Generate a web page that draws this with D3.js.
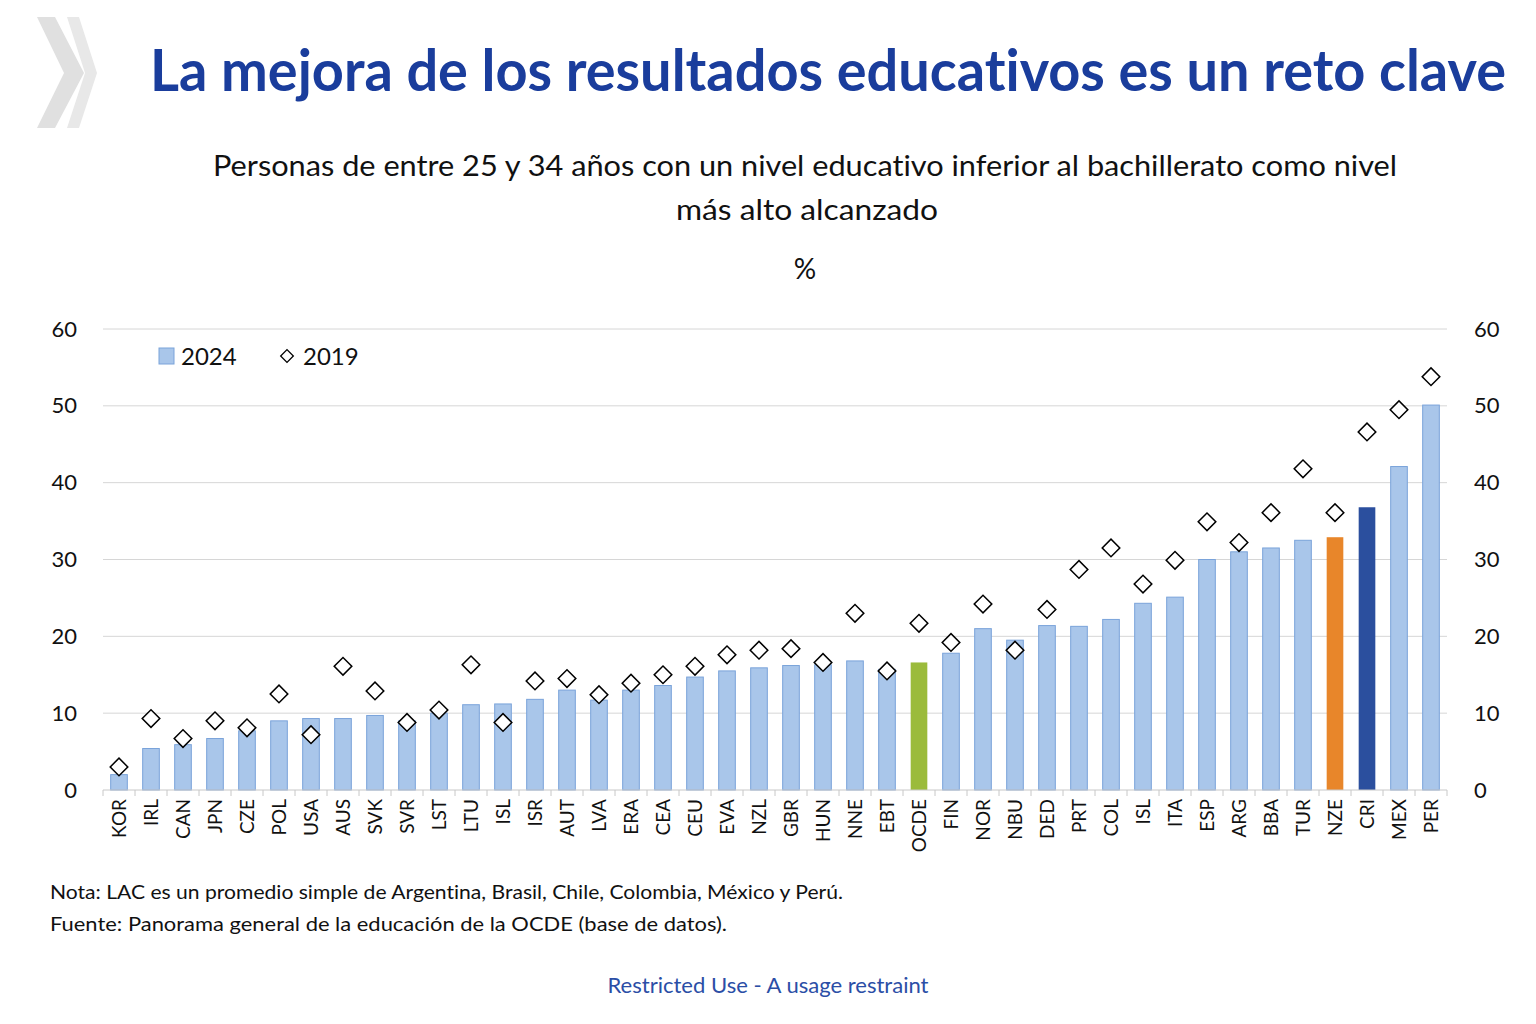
<!DOCTYPE html>
<html>
<head>
<meta charset="utf-8">
<script src="https://cdn.jsdelivr.net/npm/d3@7"></script>
<style>
  body { margin: 0; background: #fff; }
  svg { font-family: Lato, "Noto Sans", sans-serif; font-variant-ligatures: none; }
</style>
</head>
<body>
<svg class="chart" width="1536" height="1024"></svg>
<script>
// country codes as printed on the axis
let countries = ["KOR", "IRL", "CAN", "JPN", "CZE", "POL", "USA", "AUS", "SVK", "SVR",
    "LST", "LTU", "ISL", "ISR", "AUT", "LVA", "ERA", "CEA", "CEU", "EVA",
    "NZL", "GBR", "HUN", "NNE", "EBT", "OCDE", "FIN", "NOR", "NBU", "DED",
    "PRT", "COL", "ISL", "ITA", "ESP", "ARG", "BBA", "TUR", "NZE", "CRI",
    "MEX", "PER"]

let values_2024 = [2.0, 5.4, 5.9, 6.7, 7.7, 9.0, 9.3, 9.3, 9.7, 9.0,
    10.0, 11.1, 11.2, 11.8, 13.0, 11.7, 13.0, 13.6, 14.7, 15.5,
    15.9, 16.2, 16.3, 16.8, 15.7, 16.6, 17.8, 21.0, 19.5, 21.4,
    21.3, 22.2, 24.3, 25.1, 30.0, 31.0, 31.5, 32.5, 32.9, 36.8,
    42.1, 50.1]

let values_2019 = [3.0, 9.3, 6.7, 9.0, 8.1, 12.5, 7.2, 16.1, 12.9, 8.8,
    10.4, 16.3, 8.8, 14.2, 14.5, 12.4, 13.9, 15.0, 16.1, 17.6,
    18.2, 18.4, 16.6, 23.0, 15.5, 21.7, 19.2, 24.2, 18.2, 23.5,
    28.7, 31.5, 26.8, 29.9, 34.9, 32.2, 36.1, 41.8, 36.1, 46.6,
    49.5, 53.8]

let y_ticks = [0, 10, 20, 30, 40, 50, 60]

let highlight = { "OCDE": "#9bbb3b", "NZE": "#e8862a", "CRI": "#2b4f9e" }

let svg = d3.select(".chart")

let left = 103
let right = 1447
let top_y = 329
let bottom_y = 790

let x = d3.scaleBand()
    .domain(d3.range(countries.length))
    .range([left, right])
    .paddingInner(0.48)
    .paddingOuter(0.24)

let y = d3.scaleLinear()
    .domain([0, 60])
    .range([bottom_y, top_y])

// logo chevrons
let chevrons = [
    [[37, 17], [55, 17], [84, 73], [55, 128], [37, 128], [64, 73]],
    [[67, 17], [79, 17], [97, 73], [79, 128], [67, 128], [85, 73]]
]
svg.selectAll("polygon.logo")
    .data(chevrons)
    .enter().append("polygon")
    .classed("logo", true)
    .attr("points", d => d.map(p => p.join(",")).join(" "))
    .attr("fill", (d, i) => i ? "#e8e8e8" : "#e0e0e0")

// title
svg.append("text")
    .attr("x", 150)
    .attr("y", 91)
    .attr("font-size", 57)
    .attr("font-weight", "bold")
    .attr("fill", "#1a3d9c")
    .attr("textLength", 1356)
    .attr("lengthAdjust", "spacingAndGlyphs")
    .text("La mejora de los resultados educativos es un reto clave")

let subtitle = svg.append("g")
    .attr("font-size", 28)
    .attr("fill", "#111")
    .attr("text-anchor", "middle")
subtitle.append("text")
    .attr("x", 805).attr("y", 176)
    .attr("textLength", 1184)
    .attr("lengthAdjust", "spacingAndGlyphs")
    .text("Personas de entre 25 y 34 años con un nivel educativo inferior al bachillerato como nivel")
subtitle.append("text")
    .attr("x", 807).attr("y", 220)
    .attr("textLength", 262)
    .attr("lengthAdjust", "spacingAndGlyphs")
    .text("más alto alcanzado")
subtitle.append("text")
    .attr("x", 805).attr("y", 279)
    .text("%")

// grid lines
svg.append("g")
    .selectAll("line")
    .data(y_ticks.filter(d => d > 0))
    .enter().append("line")
    .attr("x1", left).attr("x2", right)
    .attr("y1", d => y(d)).attr("y2", d => y(d))
    .attr("stroke", "#d6d6d6")
    .attr("stroke-width", 1)

// y axes, both sides
let y_left = svg.append("g")
    .attr("transform", `translate(${left - 26},0)`)
    .call(d3.axisLeft(y).tickValues(y_ticks).tickSize(0).tickPadding(0))
let y_right = svg.append("g")
    .attr("transform", `translate(${right + 27},0)`)
    .call(d3.axisRight(y).tickValues(y_ticks).tickSize(0).tickPadding(0))
;[y_left, y_right].forEach(g => {
    g.select(".domain").remove()
    g.selectAll("text")
        .attr("font-size", 22)
        .attr("font-family", "Lato, sans-serif")
        .attr("fill", "#111")
})

// bars 2024
svg.append("g")
    .selectAll("rect")
    .data(values_2024)
    .enter().append("rect")
    .attr("x", (d, i) => x(i))
    .attr("y", d => y(d))
    .attr("width", x.bandwidth())
    .attr("height", d => y(0) - y(d))
    .attr("fill", (d, i) => highlight[countries[i]] || "#a9c6ea")
    .attr("stroke", (d, i) => highlight[countries[i]] ? "none" : "#7aa3da")
    .attr("stroke-width", 1)

// x axis with ticks between categories
let x_axis = svg.append("g")
    .attr("transform", `translate(0,${bottom_y})`)
x_axis.append("line")
    .attr("x1", left).attr("x2", right)
    .attr("stroke", "#c8c8c8")
x_axis.selectAll("line.tick")
    .data(d3.range(countries.length + 1))
    .enter().append("line")
    .classed("tick", true)
    .attr("x1", i => left + i * x.step())
    .attr("x2", i => left + i * x.step())
    .attr("y1", 0).attr("y2", 6)
    .attr("stroke", "#c8c8c8")
x_axis.selectAll("text")
    .data(countries)
    .enter().append("text")
    .attr("transform", (d, i) => `translate(${x(i) + x.bandwidth() / 2 + 7},9) rotate(-90)`)
    .attr("text-anchor", "end")
    .attr("font-size", 19)
    .attr("fill", "#111")
    .text(d => d)

// diamonds 2019
let diamond = d3.symbol().type(d3.symbolSquare).size(155)
svg.append("g")
    .selectAll("path")
    .data(values_2019)
    .enter().append("path")
    .attr("d", diamond)
    .attr("transform", (d, i) => `translate(${x(i) + x.bandwidth() / 2},${y(d)}) rotate(45)`)
    .attr("fill", "#fff")
    .attr("stroke", "#000")
    .attr("stroke-width", 1.5)

// legend
let legend = svg.append("g").attr("font-size", 24).attr("fill", "#111")
legend.append("rect")
    .attr("x", 159).attr("y", 348).attr("width", 15).attr("height", 16)
    .attr("fill", "#a9c6ea").attr("stroke", "#7aa3da")
legend.append("text").attr("x", 181).attr("y", 365).text("2024")
legend.append("path")
    .attr("d", d3.symbol().type(d3.symbolSquare).size(80))
    .attr("transform", "translate(287,356) rotate(45)")
    .attr("fill", "#fff").attr("stroke", "#000").attr("stroke-width", 1.3)
legend.append("text").attr("x", 303).attr("y", 365).text("2019")

// notes
let notes = svg.append("g").attr("font-size", 20).attr("fill", "#111")
notes.append("text").attr("x", 50).attr("y", 899)
    .attr("textLength", 793)
    .attr("lengthAdjust", "spacingAndGlyphs")
    .text("Nota: LAC es un promedio simple de Argentina, Brasil, Chile, Colombia, México y Perú.")
notes.append("text").attr("x", 50).attr("y", 931)
    .attr("textLength", 677)
    .attr("lengthAdjust", "spacingAndGlyphs")
    .text("Fuente: Panorama general de la educación de la OCDE (base de datos).")

svg.append("text")
    .attr("x", 768).attr("y", 993)
    .attr("text-anchor", "middle")
    .attr("font-size", 21)
    .attr("fill", "#2b4ea6")
    .attr("textLength", 321)
    .attr("lengthAdjust", "spacingAndGlyphs")
    .text("Restricted Use - A usage restraint")
</script>
</body>
</html>
